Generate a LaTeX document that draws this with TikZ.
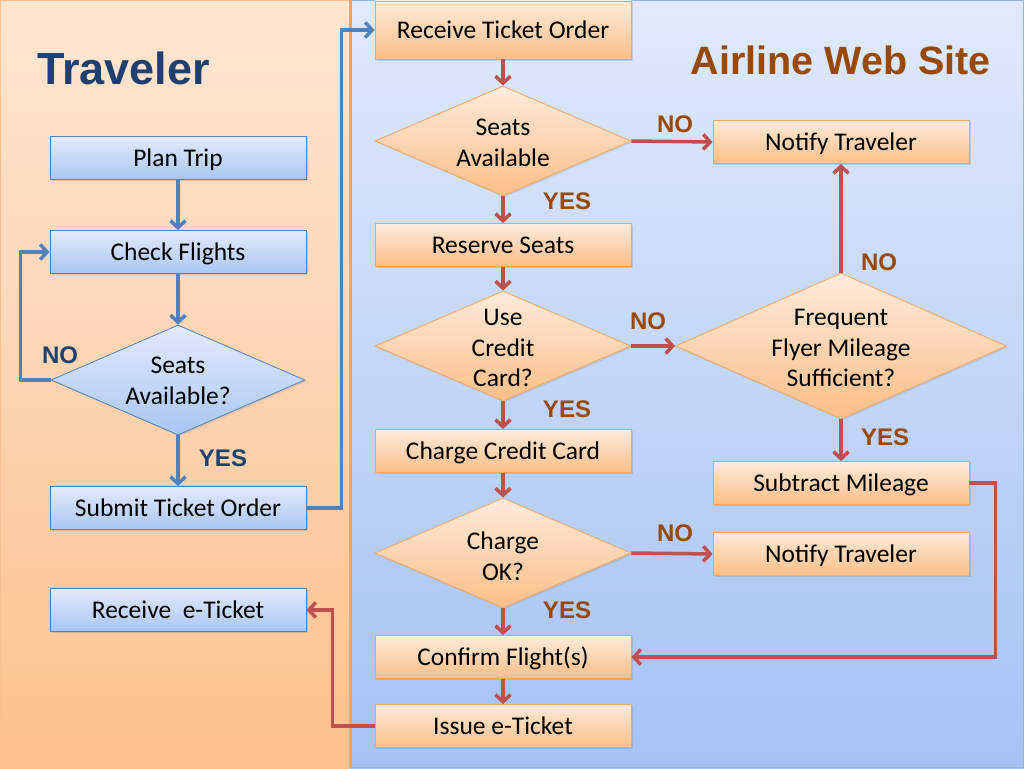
\documentclass[tikz,border=0pt]{standalone}
\usepackage{fontspec}
\setmainfont{Carlito}
\newfontfamily\arialf{Liberation Sans}
\usetikzlibrary{shapes.geometric,arrows.meta,shadows}
\definecolor{bluel}{HTML}{4F81BD}
\definecolor{redl}{HTML}{C0504D}
\definecolor{brownt}{HTML}{984807}
\definecolor{navyt}{HTML}{1F3F6E}
\definecolor{peachtop}{HTML}{FEE6D2}
\definecolor{peachbot}{HTML}{FBC18E}
\definecolor{skytop}{HTML}{DFEAFB}
\definecolor{skybot}{HTML}{A5C2F4}
\definecolor{btop}{HTML}{E2EBFB}
\definecolor{bbot}{HTML}{A9C6F4}
\definecolor{otop}{HTML}{FEEBDB}
\definecolor{obot}{HTML}{FBBE88}
\definecolor{oline}{HTML}{F5A766}
\tikzset{
  txt/.style={font=\fontsize{25.5}{30.5}\selectfont, align=center, inner sep=0},
  bbox/.style={rectangle, draw=bluel, line width=0.8pt, top color=btop, bottom color=bbot,
     minimum width=256, minimum height=43, inner sep=0, txt, text height=21.5pt, text depth=5pt,
     drop shadow={shadow xshift=1.5pt, shadow yshift=-1.5pt, opacity=0.25}},
  obox/.style={rectangle, draw=oline, line width=0.8pt, top color=otop, bottom color=obot,
     minimum width=256, minimum height=43, inner sep=0, txt, text height=21.5pt, text depth=5pt,
     drop shadow={shadow xshift=1.5pt, shadow yshift=-1.5pt, opacity=0.25}},
  bdia/.style={diamond, draw=bluel, line width=0.8pt, top color=btop, bottom color=bbot, inner sep=0,
     drop shadow={shadow xshift=1.5pt, shadow yshift=-1.5pt, opacity=0.2}},
  odia/.style={diamond, draw=oline, line width=0.8pt, top color=otop, bottom color=obot, inner sep=0,
     drop shadow={shadow xshift=1.5pt, shadow yshift=-1.5pt, opacity=0.2}},
  barrow/.style={draw=bluel, line width=3.5pt, -{Straight Barb[length=7pt,width=15pt,line width=3.5pt]}},
  rarrow/.style={draw=redl, line width=3.5pt, -{Straight Barb[length=7pt,width=15pt,line width=3.5pt]}},
  lo/.style={font=\arialf\bfseries\fontsize{24}{28}\selectfont, text=brownt, inner sep=0},
  lb/.style={font=\arialf\bfseries\fontsize{24}{28}\selectfont, text=navyt, inner sep=0},
}
\begin{document}
\begin{tikzpicture}[x=1pt,y=-1pt]
\useasboundingbox (0,0) rectangle (1024,768);
% panels
\fill[top color=peachtop, bottom color=peachbot] (0,0) rectangle (350,768);
\fill[top color=skytop, bottom color=skybot] (350,0) rectangle (1024,768);
\draw[oline!70, line width=1pt] (0.5,0.5) rectangle (349,767.5);
\draw[oline, line width=2pt] (350,0) -- (350,768);
\draw[bluel!60, line width=1pt] (351,0.5) rectangle (1023.5,767.5);
% titles
\node[font=\arialf\bfseries\fontsize{45}{50}\selectfont, text=navyt, anchor=west, inner sep=0] (ttrav) at (37,68) {Traveler};
\node[font=\arialf\bfseries\fontsize{39.5}{44}\selectfont, text=brownt, anchor=east, inner sep=0] (tair) at (991,60) {Airline Web Site};
% traveler lane
\node[bbox] (plan) at (178,158) {Plan Trip};
\node[bbox] (check) at (178,252) {Check Flights};
\node[bdia, minimum width=254, minimum height=110] (sa) at (178,380) {};
\node[txt] (satxt) at (178,381) {Seats\\Available?};
\node[bbox] (submit) at (178,508) {Submit Ticket Order};
\node[bbox] (recv) at (178,610) {Receive\ \ e-Ticket};
% airline lane
\node[obox, minimum height=58] (rto) at (503,30) {Receive Ticket Order};
\node[odia, minimum width=256, minimum height=110] (seats) at (503,141) {};
\node[txt] (seatstxt) at (503,143) {Seats\\Available};
\node[obox] (reserve) at (503,245) {Reserve Seats};
\node[odia, minimum width=256, minimum height=110] (ucc) at (503,346) {};
\node[txt] (ucctxt) at (503,348) {Use\\Credit\\Card?};
\node[obox] (ccc) at (503,451) {Charge Credit Card};
\node[odia, minimum width=256, minimum height=110] (cok) at (503,553) {};
\node[txt] (coktxt) at (503,556) {Charge\\OK?};
\node[obox] (conf) at (503,657) {Confirm Flight(s)};
\node[obox] (issue) at (503,726) {Issue e-Ticket};
\node[obox] (nt1) at (841,142) {Notify Traveler};
\node[odia, minimum width=331, minimum height=146] (ff) at (841,346) {};
\node[txt] (fftxt) at (841,348) {Frequent\\Flyer Mileage\\Sufficient?};
\node[obox] (sub) at (841,483) {Subtract Mileage};
\node[obox] (nt2) at (841,554) {Notify Traveler};
% blue connectors
\draw[barrow] (plan.south) -- (check.north);
\draw[barrow] (check.south) -- (sa.north);
\draw[barrow] (sa.west) -- ++(-30,0) |- (check.west);
\draw[barrow] (sa.south) -- (submit.north);
\draw[barrow] (submit.east) -- ++(35,0) |- (rto.west);
% red connectors
\draw[rarrow] (rto.south) -- (seats.north);
\draw[rarrow] (seats.south) -- (reserve.north);
\draw[rarrow] (reserve.south) -- (ucc.north);
\draw[rarrow] (ucc.south) -- (ccc.north);
\draw[rarrow] (ccc.south) -- (cok.north);
\draw[rarrow] (cok.south) -- (conf.north);
\draw[rarrow] (conf.south) -- (issue.north);
\draw[rarrow] (seats.east) -- (nt1.west);
\draw[rarrow] (ucc.east) -- (ff.west);
\draw[rarrow] (ff.north) -- (nt1.south);
\draw[rarrow] (ff.south) -- (sub.north);
\draw[rarrow] (cok.east) -- (nt2.west);
\draw[rarrow] (sub.east) -- ++(26,0) |- (conf.east);
\draw[rarrow] (issue.west) -- ++(-42,0) |- (recv.east);
% labels
\node[lb] (l1) at (60,355) {NO};
\node[lb] (l2) at (223,458) {YES};
\node[lo] (l3) at (675,124) {NO};
\node[lo] (l4) at (567,201) {YES};
\node[lo] (l5) at (879,262) {NO};
\node[lo] (l6) at (648,321) {NO};
\node[lo] (l7) at (567,409) {YES};
\node[lo] (l8) at (885,437) {YES};
\node[lo] (l9) at (675,533) {NO};
\node[lo] (l10) at (567,610) {YES};
\end{tikzpicture}
\end{document}
